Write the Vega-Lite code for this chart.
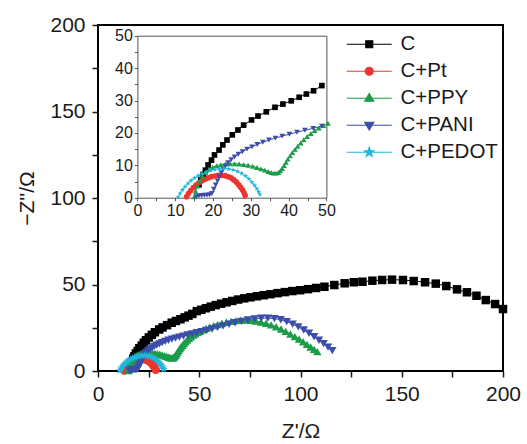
{
  "$schema": "https://vega.github.io/schema/vega-lite/v6.json",
  "width": 405,
  "height": 346,
  "autosize": "none",
  "padding": {"left": 98, "top": 25, "right": 24, "bottom": 73},
  "background": "white",
  "config": {
    "view": {"stroke": "black", "strokeWidth": 2},
    "font": "Liberation Sans",
    "axis": {"grid": false, "labelFont": "Liberation Sans", "titleFont": "Liberation Sans", "labelColor": "#1a1a1a", "titleColor": "#1a1a1a", "tickColor": "#1a1a1a", "titleFontWeight": "normal", "labelFlush": false, "labelOverlap": false}
  },
  "datasets": {
    "eis": [
      {"s":"C","x":16.3,"y":4.0},{"s":"C","x":16.8,"y":5.6},{"s":"C","x":17.4,"y":7.2},{"s":"C","x":18.0,"y":8.5},{"s":"C","x":18.7,"y":10.1},{"s":"C","x":19.6,"y":11.6},{"s":"C","x":20.4,"y":13.2},{"s":"C","x":21.6,"y":14.7},{"s":"C","x":22.6,"y":16.3},{"s":"C","x":23.7,"y":17.8},{"s":"C","x":25.1,"y":19.4},{"s":"C","x":26.6,"y":20.9},{"s":"C","x":28.1,"y":22.4},{"s":"C","x":30.2,"y":24.0},{"s":"C","x":31.9,"y":25.2},{"s":"C","x":34.1,"y":26.5},{"s":"C","x":36.4,"y":27.9},{"s":"C","x":38.5,"y":28.9},{"s":"C","x":40.7,"y":29.9},{"s":"C","x":42.8,"y":31.0},{"s":"C","x":44.7,"y":32.0},{"s":"C","x":46.6,"y":33.0},{"s":"C","x":48.8,"y":34.6},{"s":"C","x":51.0,"y":35.4},{"s":"C","x":53.3,"y":36.3},{"s":"C","x":55.7,"y":37.2},{"s":"C","x":58.2,"y":38.1},{"s":"C","x":60.8,"y":38.9},{"s":"C","x":63.5,"y":39.7},{"s":"C","x":66.3,"y":40.5},{"s":"C","x":69.2,"y":41.3},{"s":"C","x":72.2,"y":42.0},{"s":"C","x":75.3,"y":42.6},{"s":"C","x":78.5,"y":43.2},{"s":"C","x":81.8,"y":43.8},{"s":"C","x":85.2,"y":44.4},{"s":"C","x":88.7,"y":45.0},{"s":"C","x":92.3,"y":45.6},{"s":"C","x":96.0,"y":46.2},{"s":"C","x":99.8,"y":46.7},{"s":"C","x":103.7,"y":47.3},{"s":"C","x":107.7,"y":48.0},{"s":"C","x":111.8,"y":48.7},{"s":"C","x":116.7,"y":49.7},{"s":"C","x":121.8,"y":50.7},{"s":"C","x":126.3,"y":51.3},{"s":"C","x":130.6,"y":51.6},{"s":"C","x":135.5,"y":52.2},{"s":"C","x":140.3,"y":52.6},{"s":"C","x":145.2,"y":52.8},{"s":"C","x":150.6,"y":52.6},{"s":"C","x":155.9,"y":52.0},{"s":"C","x":161.5,"y":51.3},{"s":"C","x":166.8,"y":50.5},{"s":"C","x":172.0,"y":49.1},{"s":"C","x":177.3,"y":47.2},{"s":"C","x":182.2,"y":45.5},{"s":"C","x":186.9,"y":43.5},{"s":"C","x":191.5,"y":41.0},{"s":"C","x":196.1,"y":38.7},{"s":"C","x":200.0,"y":35.8},
      {"s":"C+Pt","x":13.0,"y":0.3},{"s":"C+Pt","x":13.5,"y":1.3},{"s":"C+Pt","x":14.1,"y":2.2},{"s":"C+Pt","x":14.8,"y":3.1},{"s":"C+Pt","x":15.5,"y":3.9},{"s":"C+Pt","x":16.3,"y":4.6},{"s":"C+Pt","x":17.1,"y":5.2},{"s":"C+Pt","x":17.9,"y":5.7},{"s":"C+Pt","x":18.7,"y":6.1},{"s":"C+Pt","x":19.6,"y":6.5},{"s":"C+Pt","x":20.5,"y":6.7},{"s":"C+Pt","x":21.4,"y":6.9},{"s":"C+Pt","x":22.3,"y":6.9},{"s":"C+Pt","x":23.2,"y":6.8},{"s":"C+Pt","x":24.0,"y":6.5},{"s":"C+Pt","x":24.8,"y":6.1},{"s":"C+Pt","x":25.5,"y":5.5},{"s":"C+Pt","x":26.2,"y":4.8},{"s":"C+Pt","x":26.8,"y":4.0},{"s":"C+Pt","x":27.3,"y":3.2},{"s":"C+Pt","x":27.8,"y":2.4},{"s":"C+Pt","x":28.2,"y":1.5},{"s":"C+Pt","x":28.5,"y":0.7},
      {"s":"C+PPY","x":15.0,"y":0.3},{"s":"C+PPY","x":15.4,"y":2.0},{"s":"C+PPY","x":15.9,"y":3.6},{"s":"C+PPY","x":16.5,"y":5.2},{"s":"C+PPY","x":17.2,"y":6.6},{"s":"C+PPY","x":18.0,"y":7.8},{"s":"C+PPY","x":18.9,"y":8.7},{"s":"C+PPY","x":19.9,"y":9.4},{"s":"C+PPY","x":21.0,"y":9.9},{"s":"C+PPY","x":22.1,"y":10.2},{"s":"C+PPY","x":23.3,"y":10.4},{"s":"C+PPY","x":24.5,"y":10.5},{"s":"C+PPY","x":25.7,"y":10.5},{"s":"C+PPY","x":26.9,"y":10.4},{"s":"C+PPY","x":28.1,"y":10.2},{"s":"C+PPY","x":29.3,"y":10.0},{"s":"C+PPY","x":30.5,"y":9.7},{"s":"C+PPY","x":31.6,"y":9.3},{"s":"C+PPY","x":32.7,"y":8.9},{"s":"C+PPY","x":33.7,"y":8.5},{"s":"C+PPY","x":34.6,"y":8.1},{"s":"C+PPY","x":35.4,"y":7.8},{"s":"C+PPY","x":36.1,"y":7.6},{"s":"C+PPY","x":36.7,"y":7.6},{"s":"C+PPY","x":37.3,"y":7.8},{"s":"C+PPY","x":37.8,"y":8.3},{"s":"C+PPY","x":38.3,"y":9.0},{"s":"C+PPY","x":38.8,"y":9.9},{"s":"C+PPY","x":39.3,"y":10.9},{"s":"C+PPY","x":39.8,"y":11.9},{"s":"C+PPY","x":40.4,"y":12.9},{"s":"C+PPY","x":41.0,"y":13.9},{"s":"C+PPY","x":41.7,"y":14.9},{"s":"C+PPY","x":42.4,"y":15.9},{"s":"C+PPY","x":43.2,"y":16.9},{"s":"C+PPY","x":44.0,"y":17.9},{"s":"C+PPY","x":44.9,"y":18.9},{"s":"C+PPY","x":45.9,"y":19.8},{"s":"C+PPY","x":46.9,"y":20.7},{"s":"C+PPY","x":48.0,"y":21.5},{"s":"C+PPY","x":49.2,"y":22.3},{"s":"C+PPY","x":50.4,"y":23.0},{"s":"C+PPY","x":51.8,"y":23.8},{"s":"C+PPY","x":53.4,"y":24.6},{"s":"C+PPY","x":55.2,"y":25.4},{"s":"C+PPY","x":57.1,"y":26.2},{"s":"C+PPY","x":59.1,"y":26.9},{"s":"C+PPY","x":61.2,"y":27.6},{"s":"C+PPY","x":63.4,"y":28.2},{"s":"C+PPY","x":65.7,"y":28.7},{"s":"C+PPY","x":68.1,"y":29.1},{"s":"C+PPY","x":70.5,"y":29.4},{"s":"C+PPY","x":73.0,"y":29.5},{"s":"C+PPY","x":75.5,"y":29.3},{"s":"C+PPY","x":78.0,"y":28.9},{"s":"C+PPY","x":80.5,"y":28.3},{"s":"C+PPY","x":83.0,"y":27.6},{"s":"C+PPY","x":85.5,"y":26.7},{"s":"C+PPY","x":88.0,"y":25.6},{"s":"C+PPY","x":90.4,"y":24.3},{"s":"C+PPY","x":92.7,"y":22.9},{"s":"C+PPY","x":95.0,"y":21.4},{"s":"C+PPY","x":97.2,"y":19.9},{"s":"C+PPY","x":99.3,"y":18.4},{"s":"C+PPY","x":101.3,"y":16.9},{"s":"C+PPY","x":103.2,"y":15.4},{"s":"C+PPY","x":105.0,"y":13.9},{"s":"C+PPY","x":106.7,"y":12.5},{"s":"C+PPY","x":108.3,"y":11.2},
      {"s":"C+PANI","x":15.6,"y":0.3},{"s":"C+PANI","x":16.3,"y":0.6},{"s":"C+PANI","x":17.0,"y":0.7},{"s":"C+PANI","x":17.7,"y":0.8},{"s":"C+PANI","x":18.4,"y":0.8},{"s":"C+PANI","x":19.1,"y":0.9},{"s":"C+PANI","x":19.7,"y":1.3},{"s":"C+PANI","x":20.2,"y":2.6},{"s":"C+PANI","x":20.7,"y":3.9},{"s":"C+PANI","x":21.2,"y":5.2},{"s":"C+PANI","x":21.7,"y":6.5},{"s":"C+PANI","x":22.2,"y":7.7},{"s":"C+PANI","x":22.7,"y":8.8},{"s":"C+PANI","x":23.3,"y":9.8},{"s":"C+PANI","x":24.0,"y":10.8},{"s":"C+PANI","x":24.8,"y":11.7},{"s":"C+PANI","x":25.7,"y":12.6},{"s":"C+PANI","x":26.7,"y":13.4},{"s":"C+PANI","x":27.8,"y":14.2},{"s":"C+PANI","x":29.0,"y":15.0},{"s":"C+PANI","x":30.3,"y":15.7},{"s":"C+PANI","x":31.7,"y":16.4},{"s":"C+PANI","x":33.2,"y":17.1},{"s":"C+PANI","x":34.8,"y":17.8},{"s":"C+PANI","x":36.5,"y":18.4},{"s":"C+PANI","x":38.3,"y":19.0},{"s":"C+PANI","x":40.2,"y":19.6},{"s":"C+PANI","x":42.2,"y":20.2},{"s":"C+PANI","x":44.3,"y":20.8},{"s":"C+PANI","x":46.5,"y":21.4},{"s":"C+PANI","x":48.8,"y":22.1},{"s":"C+PANI","x":51.2,"y":22.8},{"s":"C+PANI","x":53.7,"y":23.5},{"s":"C+PANI","x":56.3,"y":24.3},{"s":"C+PANI","x":59.0,"y":25.2},{"s":"C+PANI","x":61.8,"y":26.1},{"s":"C+PANI","x":64.7,"y":27.0},{"s":"C+PANI","x":67.7,"y":27.9},{"s":"C+PANI","x":70.8,"y":28.7},{"s":"C+PANI","x":74.0,"y":29.5},{"s":"C+PANI","x":77.3,"y":30.1},{"s":"C+PANI","x":80.6,"y":30.5},{"s":"C+PANI","x":83.9,"y":30.6},{"s":"C+PANI","x":87.1,"y":30.3},{"s":"C+PANI","x":90.2,"y":29.6},{"s":"C+PANI","x":93.2,"y":28.5},{"s":"C+PANI","x":96.1,"y":27.1},{"s":"C+PANI","x":98.9,"y":25.5},{"s":"C+PANI","x":101.6,"y":23.7},{"s":"C+PANI","x":104.2,"y":21.8},{"s":"C+PANI","x":106.7,"y":19.8},{"s":"C+PANI","x":109.1,"y":17.8},{"s":"C+PANI","x":111.4,"y":15.8},{"s":"C+PANI","x":113.6,"y":13.8},{"s":"C+PANI","x":115.7,"y":11.8},
      {"s":"C+PEDOT","x":10.8,"y":0.2},{"s":"C+PEDOT","x":11.3,"y":1.3},{"s":"C+PEDOT","x":11.9,"y":2.4},{"s":"C+PEDOT","x":12.6,"y":3.4},{"s":"C+PEDOT","x":13.4,"y":4.4},{"s":"C+PEDOT","x":14.2,"y":5.3},{"s":"C+PEDOT","x":15.1,"y":6.1},{"s":"C+PEDOT","x":16.1,"y":6.8},{"s":"C+PEDOT","x":17.1,"y":7.4},{"s":"C+PEDOT","x":18.2,"y":7.9},{"s":"C+PEDOT","x":19.3,"y":8.4},{"s":"C+PEDOT","x":20.5,"y":8.7},{"s":"C+PEDOT","x":21.7,"y":8.9},{"s":"C+PEDOT","x":22.9,"y":9.0},{"s":"C+PEDOT","x":24.1,"y":8.9},{"s":"C+PEDOT","x":25.3,"y":8.6},{"s":"C+PEDOT","x":26.5,"y":8.1},{"s":"C+PEDOT","x":27.6,"y":7.5},{"s":"C+PEDOT","x":28.6,"y":6.7},{"s":"C+PEDOT","x":29.5,"y":5.8},{"s":"C+PEDOT","x":30.3,"y":4.8},{"s":"C+PEDOT","x":31.0,"y":3.8},{"s":"C+PEDOT","x":31.6,"y":2.8},{"s":"C+PEDOT","x":32.1,"y":1.8},{"s":"C+PEDOT","x":32.4,"y":1.0}
    ]
  },
  "data": {"name": "eis"},
  "resolve": {
    "scale": {"x": "independent", "y": "independent", "color": "independent", "shape": "independent", "stroke": "independent"},
    "axis": {"x": "independent", "y": "independent"}
  },
  "layer": [
    {
      "mark": {"type": "line", "strokeWidth": 1},
      "encoding": {
        "x": {"field": "x", "type": "quantitative", "scale": {"domain": [0, 200], "nice": false, "zero": false}, "axis": null},
        "y": {"field": "y", "type": "quantitative", "scale": {"domain": [0, 200], "nice": false, "zero": false}, "axis": null},
        "color": {"field": "s", "type": "nominal", "legend": null,
          "scale": {"domain": ["C","C+Pt","C+PPY","C+PANI","C+PEDOT"], "range": ["#000000","#ee3431","#1b9c48","#3c4ea9","#22b6dc"]}}
      }
    },
    {
      "mark": {"type": "point", "filled": true, "opacity": 1, "size": 72},
      "encoding": {
        "x": {"field": "x", "type": "quantitative", "scale": {"domain": [0, 200], "nice": false, "zero": false},
          "axis": {"orient": "bottom", "values": [0,25,50,75,100,125,150,175,200], "labelExpr": "datum.value % 50 === 0 ? datum.label : ''", "title": "Z'/Ω", "domain": false, "tickSize": 6, "tickWidth": 1.5, "labelPadding": 6, "labelFontSize": 21, "titleFontSize": 21, "titlePadding": 16}},
        "y": {"field": "y", "type": "quantitative", "scale": {"domain": [0, 200], "nice": false, "zero": false},
          "axis": {"orient": "left", "values": [0,25,50,75,100,125,150,175,200], "labelExpr": "datum.value % 50 === 0 ? datum.label : ''", "title": "−Z''/Ω", "domain": false, "tickSize": 6, "tickWidth": 1.5, "labelPadding": 7, "labelFontSize": 21, "titleFontSize": 21, "titlePadding": 12}},
        "color": {"field": "s", "type": "nominal", "legend": null,
          "scale": {"domain": ["C","C+Pt","C+PPY","C+PANI","C+PEDOT"], "range": ["#000000","#ee3431","#1b9c48","#3c4ea9","#22b6dc"]}},
        "shape": {"field": "s", "type": "nominal", "legend": null,
          "scale": {"domain": ["C","C+Pt","C+PPY","C+PANI","C+PEDOT"], "range": ["square","circle","triangle-up","triangle-down","M0,-1L0.235,-0.324L0.951,-0.309L0.38,0.124L0.588,0.809L0,0.4L-0.588,0.809L-0.38,0.124L-0.951,-0.309L-0.235,-0.324Z"]}}
      }
    },
    {
      "transform": [{"filter": {"field": "x", "lte": 50.6}}],
      "mark": {"type": "line", "strokeWidth": 1},
      "encoding": {
        "x": {"field": "x", "type": "quantitative", "scale": {"domain": [0, 50], "range": [39.4, 228.4], "nice": false, "zero": false},
          "axis": {"orient": "top", "offset": -10.7, "title": null, "labels": false, "ticks": false, "domain": true, "domainColor": "#555555", "domainWidth": 1}},
        "y": {"field": "y", "type": "quantitative", "scale": {"domain": [0, 50], "range": [172.7, 10.7], "nice": false, "zero": false},
          "axis": {"orient": "right", "offset": -176.6, "title": null, "labels": false, "ticks": false, "domain": true, "domainColor": "#555555", "domainWidth": 1}},
        "color": {"field": "s", "type": "nominal", "legend": null,
          "scale": {"domain": ["C","C+Pt","C+PPY","C+PANI","C+PEDOT"], "range": ["#000000","#ee3431","#1b9c48","#3c4ea9","#22b6dc"]}}
      }
    },
    {
      "transform": [{"filter": {"field": "x", "lte": 50.6}}],
      "mark": {"type": "point", "filled": true, "opacity": 1, "size": 32},
      "encoding": {
        "x": {"field": "x", "type": "quantitative", "scale": {"domain": [0, 50], "range": [39.4, 228.4], "nice": false, "zero": false},
          "axis": {"orient": "bottom", "offset": -173.3, "values": [0,5,10,15,20,25,30,35,40,45,50], "labelExpr": "datum.value % 10 === 0 ? datum.label : ''", "title": null, "domain": true, "domainColor": "#555555", "domainWidth": 1, "tickSize": 3, "tickColor": "#555555", "labelPadding": 2, "labelFontSize": 16}},
        "y": {"field": "y", "type": "quantitative", "scale": {"domain": [0, 50], "range": [172.7, 10.7], "nice": false, "zero": false},
          "axis": {"orient": "left", "offset": -39.4, "values": [0,5,10,15,20,25,30,35,40,45,50], "labelExpr": "datum.value % 10 === 0 ? datum.label : ''", "title": null, "domain": true, "domainColor": "#555555", "domainWidth": 1, "tickSize": 3, "tickColor": "#555555", "labelPadding": 2, "labelFontSize": 16}},
        "color": {"field": "s", "type": "nominal", "legend": null,
          "scale": {"domain": ["C","C+Pt","C+PPY","C+PANI","C+PEDOT"], "range": ["#000000","#ee3431","#1b9c48","#3c4ea9","#22b6dc"]}},
        "shape": {"field": "s", "type": "nominal", "legend": null,
          "scale": {"domain": ["C","C+Pt","C+PPY","C+PANI","C+PEDOT"], "range": ["square","circle","triangle-up","triangle-down","M0,-1L0.235,-0.324L0.951,-0.309L0.38,0.124L0.588,0.809L0,0.4L-0.588,0.809L-0.38,0.124L-0.951,-0.309L-0.235,-0.324Z"]}}
      }
    },
    {
      "transform": [{"filter": {"field": "s", "equal": "__none__"}}],
      "mark": {"type": "point", "filled": true, "opacity": 1, "size": 100, "strokeWidth": 1.2},
      "encoding": {
        "color": {"field": "s", "type": "nominal",
          "scale": {"domain": ["C","C+Pt","C+PPY","C+PANI","C+PEDOT"], "range": ["#000000","#ee3431","#1b9c48","#3c4ea9","#22b6dc"]},
          "legend": {"title": null, "orient": "none", "legendX": 261, "legendY": 9, "padding": 0, "symbolSize": 100, "symbolStrokeWidth": 1.2, "labelFontSize": 20.5, "labelFont": "Liberation Sans", "labelColor": "#1a1a1a", "labelOffset": 21, "rowPadding": 6, "labelLimit": 300}},
        "stroke": {"field": "s", "type": "nominal",
          "scale": {"domain": ["C","C+Pt","C+PPY","C+PANI","C+PEDOT"], "range": ["#000000","#ee3431","#1b9c48","#3c4ea9","#22b6dc"]},
          "legend": {"title": null, "orient": "none", "legendX": 261, "legendY": 9, "padding": 0, "symbolSize": 100, "symbolStrokeWidth": 1.2, "labelFontSize": 20.5, "labelFont": "Liberation Sans", "labelColor": "#1a1a1a", "labelOffset": 21, "rowPadding": 6, "labelLimit": 300}},
        "shape": {"field": "s", "type": "nominal",
          "scale": {"domain": ["C","C+Pt","C+PPY","C+PANI","C+PEDOT"], "range": [
            "M-4.5,0H4.5M-0.7,-0.7H0.7V0.7H-0.7Z",
            "M-4.5,0H4.5M-0.8,0A0.8,0.8,0,1,0,0.8,0A0.8,0.8,0,1,0,-0.8,0Z",
            "M-4.5,0H4.5M0,-0.95L0.9,0.6L-0.9,0.6Z",
            "M-4.5,0H4.5M0,0.95L0.9,-0.6L-0.9,-0.6Z",
            "M-4.5,0H4.5M0,-1L0.235,-0.324L0.951,-0.309L0.38,0.124L0.588,0.809L0,0.4L-0.588,0.809L-0.38,0.124L-0.951,-0.309L-0.235,-0.324Z"]},
          "legend": {"title": null, "orient": "none", "legendX": 261, "legendY": 9, "padding": 0, "symbolSize": 100, "symbolStrokeWidth": 1.2, "labelFontSize": 20.5, "labelFont": "Liberation Sans", "labelColor": "#1a1a1a", "labelOffset": 21, "rowPadding": 6, "labelLimit": 300}}
      }
    }
  ]
}
